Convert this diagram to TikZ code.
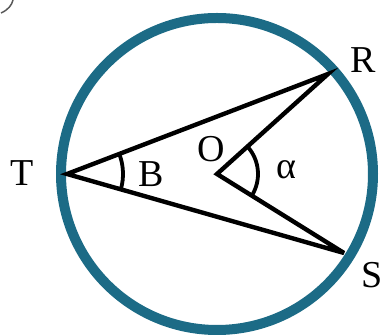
\documentclass[tikz,border=0pt]{standalone}
\usepackage{fontspec}
\setmainfont{Liberation Serif}
\usetikzlibrary{angles}
\definecolor{ring}{HTML}{1C6B86}
\tikzset{
  lbl/.style={font=\fontsize{38pt}{38pt}\selectfont, inner sep=0pt},
  segline/.style={line width=4.4pt, line join=miter, miter limit=6},
  anglemark/.style={draw, line width=3.8pt}
}
\begin{document}
\begin{tikzpicture}[x=1pt,y=1pt]
\useasboundingbox (0,0) rectangle (386,336);
\coordinate (O) at (217,162);
\coordinate (T) at (67,162);
\coordinate (R) at (328,262);
\coordinate (S) at (344,83);
\draw[ring, line width=10pt] (O) circle[radius=156];
\draw[segline] (T) -- (R) -- (O) -- (S) -- cycle;
\pic[anglemark, angle radius=56pt] {angle = S--T--R};
\pic[anglemark, angle radius=41pt] {angle = S--O--R};
\node[lbl] (lT) at (22,163) {T};
\node[lbl] (lR) at (363,276) {R};
\node[lbl] (lS) at (372,61) {S};
\node[lbl] (lO) at (211,187) {O};
\node[lbl] (lB) at (151,162) {B};
\node[lbl] (la) at (286,166) {α};
\draw[line width=1.5pt, gray!70!black] (1,323) .. controls (8,326) and (12,331) .. (13,336);
\end{tikzpicture}
\end{document}
